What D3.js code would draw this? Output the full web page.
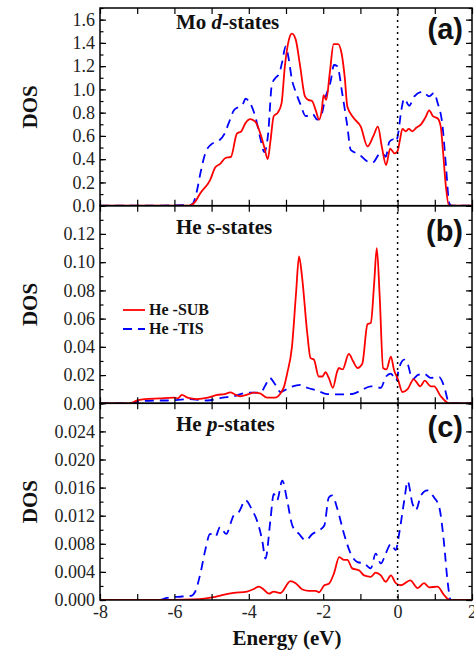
<!DOCTYPE html>
<html>
<head>
<meta charset="utf-8">
<script src="https://cdn.jsdelivr.net/npm/d3@7/dist/d3.min.js"></script>
<style>
  body { margin: 0; background: #fff; }
  svg { display: block; }
</style>
</head>
<body>
<div id="chart"></div>
<script>
// Energy axis and tick values
const energyTicks = [-8, -6, -4, -2, 0, 2];

// Mo d-states (panel a)
const moSubE = [-8, -5.6, -5.45, -5.3, -5.04, -4.9, -4.77, -4.63, -4.48, -4.32, -4.2, -4.09, -3.96, -3.82, -3.69, -3.58, -3.49, -3.42, -3.33, -3.22, -3.12, -3.03, -2.92, -2.84, -2.74, -2.62, -2.49, -2.4, -2.3, -2.2, -2.11, -2.04, -1.99, -1.92, -1.82, -1.72, -1.6, -1.5, -1.42, -1.35, -1.17, -0.99, -0.81, -0.65, -0.53, -0.42, -0.31, -0.2, -0.08, 0, 0.06, 0.13, 0.22, 0.3, 0.4, 0.5, 0.63, 0.75, 0.85, 0.95, 1.08, 1.16, 1.22, 1.3, 1.38, 2];
const moSubV = [0, 0, 0.03, 0.11, 0.22, 0.33, 0.36, 0.41, 0.42, 0.62, 0.64, 0.71, 0.745, 0.72, 0.62, 0.5, 0.4, 0.55, 0.77, 0.8, 0.88, 1.2, 1.43, 1.48, 1.43, 1.2, 0.94, 0.91, 0.9, 0.82, 0.74, 0.82, 0.95, 0.91, 1.15, 1.39, 1.39, 1.3, 1.1, 0.85, 0.75, 0.68, 0.51, 0.6, 0.68, 0.5, 0.35, 0.49, 0.45, 0.47, 0.56, 0.66, 0.64, 0.66, 0.64, 0.67, 0.7, 0.76, 0.82, 0.77, 0.75, 0.68, 0.47, 0.16, 0, 0];
const moTisE = [-8, -6.4, -6.0, -5.6, -5.5, -5.4, -5.3, -5.17, -5.0, -4.8, -4.65, -4.54, -4.4, -4.27, -4.15, -4.09, -3.98, -3.82, -3.69, -3.58, -3.48, -3.38, -3.28, -3.19, -3.1, -3.01, -2.92, -2.85, -2.74, -2.61, -2.47, -2.29, -2.16, -2.07, -1.94, -1.8, -1.71, -1.62, -1.49, -1.35, -1.26, -1.03, -0.81, -0.67, -0.5, -0.4, -0.32, -0.22, -0.12, -0.04, 0.02, 0.09, 0.18, 0.31, 0.45, 0.67, 0.85, 0.98, 1.07, 1.21, 1.3, 1.39, 1.45, 2];
const moTisV = [0, 0, 0.003, 0.005, 0.02, 0.12, 0.28, 0.45, 0.53, 0.56, 0.62, 0.71, 0.82, 0.85, 0.88, 0.92, 0.89, 0.76, 0.58, 0.46, 0.62, 1.04, 1.1, 1.13, 1.24, 1.37, 1.25, 1.1, 0.98, 0.87, 0.77, 0.79, 0.74, 0.76, 0.93, 1.07, 1.21, 1.2, 0.97, 0.68, 0.48, 0.44, 0.38, 0.37, 0.44, 0.45, 0.42, 0.55, 0.57, 0.55, 0.63, 0.8, 0.92, 0.86, 0.94, 0.98, 0.94, 0.97, 0.89, 0.68, 0.34, 0.02, 0, 0];

// He s-states (panel b)
const heSSubE = [-8, -7.2, -7.0, -6.8, -6.4, -6.0, -5.9, -5.8, -5.65, -5.4, -5.1, -4.85, -4.65, -4.5, -4.35, -4.23, -4.0, -3.87, -3.7, -3.51, -3.3, -3.15, -3.05, -2.97, -2.84, -2.73, -2.65, -2.57, -2.43, -2.34, -2.25, -2.12, -2.02, -1.94, -1.85, -1.74, -1.63, -1.58, -1.48, -1.31, -1.2, -1.08, -0.95, -0.81, -0.72, -0.63, -0.56, -0.48, -0.39, -0.3, -0.18, -0.1, 0.01, 0.13, 0.27, 0.43, 0.61, 0.73, 0.89, 0.98, 1.16, 1.39, 2];
const heSSubV = [0, 0, 0.002, 0.003, 0.0035, 0.004, 0.0035, 0.006, 0.004, 0.003, 0.004, 0.006, 0.0065, 0.0077, 0.006, 0.005, 0.0065, 0.0075, 0.007, 0.004, 0.004, 0.007, 0.012, 0.021, 0.04, 0.078, 0.104, 0.09, 0.05, 0.032, 0.031, 0.019, 0.019, 0.022, 0.018, 0.011, 0.022, 0.025, 0.024, 0.035, 0.03, 0.025, 0.028, 0.056, 0.057, 0.085, 0.11, 0.075, 0.025, 0.024, 0.033, 0.024, 0.017, 0.008, 0.01, 0.017, 0.012, 0.016, 0.012, 0.012, 0.005, 0, 0];
const heSTisE = [-8, -7.2, -7.0, -6.5, -6.2, -5.6, -5.12, -4.7, -4.41, -4.05, -3.69, -3.55, -3.44, -3.28, -3.15, -2.92, -2.61, -2.43, -2.16, -1.89, -1.53, -1.22, -0.99, -0.72, -0.45, -0.31, -0.18, -0.04, 0.04, 0.18, 0.27, 0.4, 0.54, 0.71, 0.89, 1.12, 1.25, 1.39, 2];
const heSTisV = [0, 0, 0.001, 0.002, 0.002, 0.003, 0.002, 0.004, 0.005, 0.0075, 0.0075, 0.013, 0.018, 0.013, 0.008, 0.011, 0.013, 0.011, 0.009, 0.0065, 0.0063, 0.0066, 0.009, 0.012, 0.011, 0.019, 0.021, 0.016, 0.025, 0.031, 0.028, 0.017, 0.02, 0.021, 0.018, 0.0185, 0.012, 0, 0];

// He p-states (panel c)
const hePSubE = [-8, -6.5, -5.5, -5.2, -4.95, -4.72, -4.41, -4.05, -3.85, -3.73, -3.6, -3.46, -3.33, -3.15, -2.88, -2.74, -2.56, -2.38, -2.2, -2.11, -1.97, -1.85, -1.71, -1.57, -1.44, -1.35, -1.22, -1.03, -0.9, -0.72, -0.59, -0.45, -0.32, -0.18, -0.05, 0.09, 0.34, 0.54, 0.71, 0.85, 1.07, 1.25, 1.41, 2];
const hePSubV = [0, 0, 0.0001, 0.0002, 0.0004, 0.0007, 0.001, 0.0012, 0.0016, 0.0019, 0.0015, 0.0009, 0.0012, 0.001, 0.0027, 0.0024, 0.0015, 0.0013, 0.0013, 0.0011, 0.0021, 0.0023, 0.0038, 0.0061, 0.0057, 0.0057, 0.0045, 0.0042, 0.0035, 0.0033, 0.0039, 0.0035, 0.0026, 0.0035, 0.0024, 0.0021, 0.0028, 0.0017, 0.0024, 0.0018, 0.0019, 0.0007, 0, 0];
const hePTisE = [-8, -6.4, -6.2, -5.8, -5.55, -5.44, -5.3, -5.17, -5.04, -4.9, -4.77, -4.61, -4.41, -4.27, -4.09, -3.91, -3.78, -3.64, -3.55, -3.42, -3.33, -3.24, -3.1, -2.97, -2.83, -2.65, -2.47, -2.29, -2.11, -1.97, -1.85, -1.76, -1.62, -1.44, -1.26, -1.08, -0.9, -0.72, -0.59, -0.45, -0.32, -0.18, -0.05, 0.04, 0.18, 0.27, 0.4, 0.49, 0.63, 0.8, 0.98, 1.12, 1.25, 1.34, 1.43, 2];
const hePTisV = [0, 0, 0.0003, 0.0005, 0.0006, 0.0012, 0.0038, 0.0071, 0.0094, 0.009, 0.0104, 0.0094, 0.012, 0.0125, 0.0142, 0.0128, 0.0113, 0.0085, 0.0059, 0.0113, 0.0151, 0.0142, 0.017, 0.0142, 0.0106, 0.0094, 0.0085, 0.0094, 0.0099, 0.0106, 0.0146, 0.0149, 0.013, 0.0094, 0.0066, 0.0054, 0.0052, 0.0045, 0.0066, 0.0052, 0.0066, 0.008, 0.0071, 0.0094, 0.0142, 0.0169, 0.0137, 0.0128, 0.0149, 0.0156, 0.0146, 0.0132, 0.008, 0.0028, 0, 0];

// Y axis settings per panel
const yMaxA = 1.7, yTicksA = [0, 0.2, 0.4, 0.6, 0.8, 1.0, 1.2, 1.4, 1.6];
const yMaxB = 0.14, yTicksB = [0, 0.02, 0.04, 0.06, 0.08, 0.10, 0.12];
const yMaxC = 0.028, yTicksC = [0, 0.004, 0.008, 0.012, 0.016, 0.020, 0.024];

const seriesNames = ["He -SUB", "He -TIS"];
const seriesColors = ["#ff0000", "#0000ff"];

// Layout
const width = 474, height = 652;
const left = 100, right = 472;
const panelTops = [8, 205.7, 403.3];
const panelBottoms = [205.7, 403.3, 600];
const serif = "'Liberation Serif', 'Times New Roman', serif";

const svg = d3.select("#chart").append("svg")
    .attr("width", width)
    .attr("height", height);

const x = d3.scaleLinear().domain([-8, 2]).range([left, right]);

const zip = (es, vs) => es.map((e, i) => [e, vs[i]]);

const panels = [
    { tag: "(a)", title: ["Mo ", "d", "-states"], yMax: yMaxA, ticks: yTicksA, fmt: ".1f", step: 0.1,
      sub: zip(moSubE, moSubV), tis: zip(moTisE, moTisV), titleY: 29, tagY: 39 },
    { tag: "(b)", title: ["He ", "s", "-states"], yMax: yMaxB, ticks: yTicksB, fmt: ".2f", step: 0.01,
      sub: zip(heSSubE, heSSubV), tis: zip(heSTisE, heSTisV), titleY: 234, tagY: 241 },
    { tag: "(c)", title: ["He ", "p", "-states"], yMax: yMaxC, ticks: yTicksC, fmt: ".3f", step: 0.002,
      sub: zip(hePSubE, hePSubV), tis: zip(hePTisE, hePTisV), titleY: 431, tagY: 437 }
];

panels.forEach((p, i) => {
    const top = panelTops[i], bottom = panelBottoms[i];
    const y = d3.scaleLinear().domain([0, p.yMax]).range([bottom, top]);
    const g = svg.append("g");

    // clip so the curves never leave their panel
    const clipId = "clip" + i;
    svg.append("clipPath").attr("id", clipId)
        .append("rect").attr("x", left).attr("y", top).attr("width", right - left).attr("height", bottom - top);

    const line = d3.line()
        .x(d => x(d[0]))
        .y(d => y(d[1]))
        .curve(d3.curveMonotoneX);

    const curves = g.append("g").attr("clip-path", `url(#${clipId})`);
    curves.append("path")
        .attr("d", line(p.tis))
        .attr("fill", "none")
        .attr("stroke", seriesColors[1])
        .attr("stroke-width", 1.8)
        .attr("stroke-dasharray", "9,6");
    curves.append("path")
        .attr("d", line(p.sub))
        .attr("fill", "none")
        .attr("stroke", seriesColors[0])
        .attr("stroke-width", 1.8);

    // minor y ticks (left and right)
    const minor = d3.range(0, p.yMax + 1e-9, p.step);
    g.append("g").attr("transform", `translate(${left},0)`)
        .call(d3.axisLeft(y).tickValues(minor).tickSize(-3.5).tickFormat(""))
        .call(a => a.select(".domain").remove());
    g.append("g").attr("transform", `translate(${right},0)`)
        .call(d3.axisRight(y).tickValues(minor).tickSize(-3.5).tickFormat(""))
        .call(a => a.select(".domain").remove());

    // major y ticks with labels
    g.append("g").attr("transform", `translate(${left},0)`)
        .call(d3.axisLeft(y).tickValues(p.ticks.filter(t => t < p.yMax)).tickSize(-6).tickPadding(5).tickFormat(d3.format(p.fmt)))
        .call(a => a.select(".domain").remove())
        .call(a => a.selectAll("text")
            .attr("font-family", serif)
            .attr("font-size", 18)
            .attr("fill", "#222"));
    g.append("g").attr("transform", `translate(${right},0)`)
        .call(d3.axisRight(y).tickValues(p.ticks).tickSize(-6).tickFormat(""))
        .call(a => a.select(".domain").remove());

    // x ticks on top and bottom of every panel
    const xTicks = d3.range(-8, 2.01, 1);
    g.append("g").attr("transform", `translate(0,${top})`)
        .call(d3.axisTop(x).tickValues(xTicks).tickSize(-6).tickFormat(""))
        .call(a => a.select(".domain").remove());
    const bottomAxis = g.append("g").attr("transform", `translate(0,${bottom})`)
        .call(d3.axisBottom(x).tickValues(xTicks).tickSize(-6).tickPadding(5)
            .tickFormat(i === 2 ? (d => energyTicks.includes(d) ? d : "") : ""))
        .call(a => a.select(".domain").remove());
    bottomAxis.selectAll("text")
        .attr("font-family", serif)
        .attr("font-size", 18)
        .attr("fill", "#222");

    g.selectAll(".tick line").attr("stroke", "#000").attr("stroke-width", 1.2);

    // frame
    g.append("rect")
        .attr("x", left).attr("y", top)
        .attr("width", right - left).attr("height", bottom - top)
        .attr("fill", "none")
        .attr("stroke", "#000")
        .attr("stroke-width", 1.5);

    // panel title
    const t = g.append("text")
        .attr("x", 176).attr("y", p.titleY)
        .attr("font-family", serif)
        .attr("font-weight", "bold")
        .attr("font-size", 21)
        .attr("fill", "#111");
    t.append("tspan").text(p.title[0]);
    t.append("tspan").attr("font-style", "italic").text(p.title[1]);
    t.append("tspan").text(p.title[2]);

    // panel tag
    g.append("text")
        .attr("x", 463).attr("y", p.tagY)
        .attr("text-anchor", "end")
        .attr("font-family", "'Liberation Sans', Arial, sans-serif")
        .attr("font-weight", "bold")
        .attr("font-size", 29)
        .attr("fill", "#111")
        .text(p.tag);

    // y label
    g.append("text")
        .attr("transform", `translate(37,${(top + bottom) / 2}) rotate(-90)`)
        .attr("text-anchor", "middle")
        .attr("font-family", serif)
        .attr("font-weight", "bold")
        .attr("font-size", 21)
        .attr("fill", "#111")
        .text("DOS");
});

// dotted Fermi level line
svg.append("line")
    .attr("x1", x(0)).attr("x2", x(0))
    .attr("y1", panelTops[0]).attr("y2", panelBottoms[2])
    .attr("stroke", "#000")
    .attr("stroke-width", 1.5)
    .attr("stroke-dasharray", "2,4");

// x label
svg.append("text")
    .attr("x", (left + right) / 2 + 1)
    .attr("y", 645)
    .attr("text-anchor", "middle")
    .attr("font-family", serif)
    .attr("font-weight", "bold")
    .attr("font-size", 21)
    .attr("fill", "#111")
    .text("Energy (eV)");

// legend in panel (b)
const legend = svg.append("g");
seriesNames.forEach((name, i) => {
    const ly = 310 + i * 19;
    legend.append("line")
        .attr("x1", 123).attr("x2", 145)
        .attr("y1", ly).attr("y2", ly)
        .attr("stroke", seriesColors[i])
        .attr("stroke-width", 1.8)
        .attr("stroke-dasharray", i === 1 ? "9,6" : null);
    legend.append("text")
        .attr("x", 149).attr("y", ly + 5)
        .attr("font-family", serif)
        .attr("font-weight", "bold")
        .attr("font-size", 16)
        .attr("fill", "#111")
        .text(name);
});
</script>
</body>
</html>
